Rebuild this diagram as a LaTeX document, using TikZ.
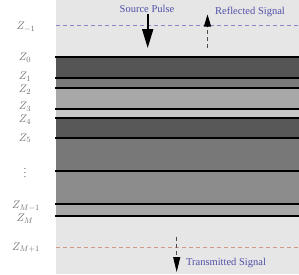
\documentclass[tikz,border=0pt]{standalone}
\usepackage{fontspec}
\setmainfont{Liberation Serif}
\usetikzlibrary{arrows.meta}
\definecolor{bgray}{HTML}{E6E6E6}
\definecolor{lblue}{HTML}{5050A8}
\definecolor{dblue}{HTML}{8888C8}
\definecolor{dred}{HTML}{D09888}
\definecolor{zgray}{HTML}{707070}
\tikzset{
  layerline/.style={line width=1.8pt, black},
  zlab/.style={text=zgray, font=\fontsize{11}{11}\selectfont, inner sep=0pt},
  sig/.style={text=lblue, font=\fontsize{10.5}{10.5}\selectfont, inner sep=0pt},
  dline/.style={dashed, dash pattern=on 4pt off 3pt, line width=0.7pt},
}
\begin{document}
\begin{tikzpicture}[x=1pt,y=-1pt]
\useasboundingbox (0,0) rectangle (299,274);
\fill[bgray] (56,0) rectangle (299,274);
% layers
\fill[fill={rgb,255:red,85;green,85;blue,85}] (56,57) rectangle (299,77.7);
\fill[fill={rgb,255:red,122;green,122;blue,122}] (56,77.7) rectangle (299,88);
\fill[fill={rgb,255:red,168;green,168;blue,168}] (56,88) rectangle (299,109.3);
\fill[fill={rgb,255:red,200;green,200;blue,200}] (56,109.3) rectangle (299,117.7);
\fill[fill={rgb,255:red,88;green,88;blue,88}] (56,117.7) rectangle (299,138);
\fill[fill={rgb,255:red,120;green,120;blue,120}] (56,138) rectangle (299,171.3);
\fill[fill={rgb,255:red,140;green,140;blue,140}] (56,171.3) rectangle (299,204.3);
\fill[fill={rgb,255:red,168;green,168;blue,168}] (56,204.3) rectangle (299,216);
\foreach \yy in {57,77.7,88,109.3,117.7,138,171.3,204.3,216}
  \draw[layerline] (55,\yy) -- (299,\yy);
% dashed reference lines
\coordinate (r0) at (56,25); \coordinate (r1) at (299,25);
\coordinate (t0) at (56,247.7); \coordinate (t1) at (299,247.7);
\draw[dline, dblue] (r0) -- (r1);
\draw[dline, dred] (t0) -- (t1);
% labels
\node[zlab] (zm1) at (26,27) {$Z_{-1}$};
\node[zlab] (z0) at (25,58) {$Z_{0}$};
\node[zlab] (z1) at (25,77) {$Z_{1}$};
\node[zlab] (z2) at (25,89.5) {$Z_{2}$};
\node[zlab] (z3) at (25,106.5) {$Z_{3}$};
\node[zlab] (z4) at (25,119.5) {$Z_{4}$};
\node[zlab] (z5) at (25,138.3) {$Z_{5}$};
\node[zlab] (zd) at (25,170) {$\vdots$};
\node[zlab] (zMm) at (26,206) {$Z_{M-1}$};
\node[zlab] (zM) at (25,218.5) {$Z_{M}$};
\node[zlab] (zMp) at (26,247.7) {$Z_{M+1}$};
% source pulse
\node[sig] (src) at (147,8.5) {Source Pulse};
\coordinate (srcend) at (147.7,48);
\draw[line width=1.8pt, -{Triangle[length=19pt,width=11pt]}] (147.7,14) -- (srcend);
% reflected
\node[sig] (refl) at (250,11.5) {Reflected Signal};
\coordinate (rs0) at (207.5,48);
\coordinate (rs1) at (207.5,14.5);
\draw[dline, black!70, line width=0.8pt] (rs0) -- (207.5,27);
\draw[line width=0.8pt, -{Triangle[length=12pt,width=7pt]}] (207.5,27) -- (rs1);
% transmitted
\node[sig] (trans) at (226,263) {Transmitted Signal};
\coordinate (ts0) at (176.7,236.5);
\coordinate (ts1) at (176.7,272);
\draw[dline, black!70, line width=0.8pt] (ts0) -- (176.7,257);
\draw[line width=0.8pt, -{Triangle[length=15pt,width=7pt]}] (176.7,257) -- (ts1);
\end{tikzpicture}
\end{document}
